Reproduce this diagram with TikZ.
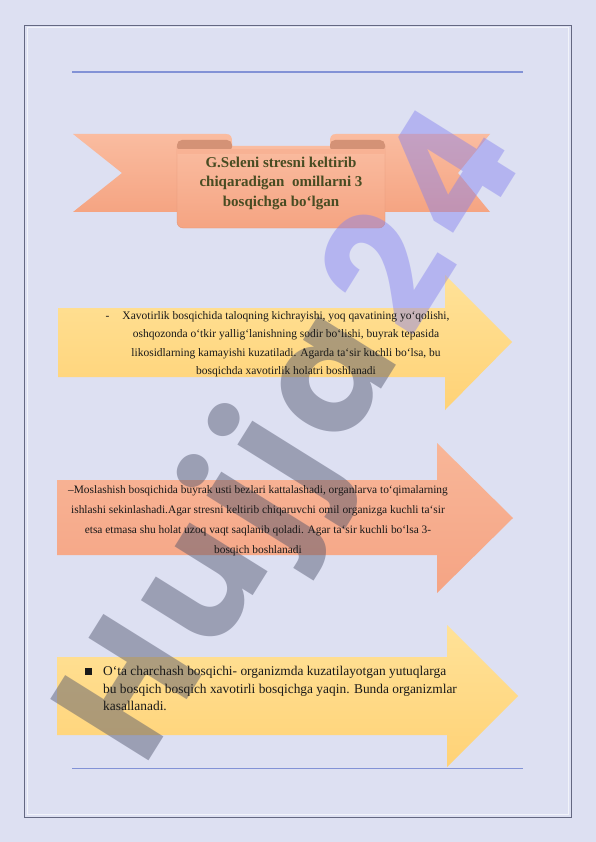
\documentclass[tikz,border=0pt]{standalone}
\usepackage{fontspec}
\setmainfont{Liberation Serif}
\newfontfamily\wmfont{Poppins}[LetterSpace=7]
\definecolor{pagebg}{RGB}{221,224,242}
\definecolor{framec}{RGB}{100,104,130}
\definecolor{rulec}{RGB}{130,146,214}
\definecolor{ribtop}{RGB}{250,188,160}
\definecolor{ribbot}{RGB}{245,164,130}
\definecolor{ribedge}{RGB}{228,150,120}
\definecolor{ribfold}{RGB}{212,146,118}
\definecolor{titlec}{RGB}{72,76,34}
\definecolor{yeltop}{RGB}{255,226,152}
\definecolor{yelbot}{RGB}{255,210,118}
\definecolor{saltop}{RGB}{248,182,152}
\definecolor{salbot}{RGB}{245,164,132}
\definecolor{wmgray}{RGB}{75,80,106}
\definecolor{wmblue}{RGB}{131,128,238}
\begin{document}
\begin{tikzpicture}[x=1pt,y=-1pt,
	ribbon/.style={top color=ribtop,bottom color=ribbot},
	yelarrow/.style={top color=yeltop,bottom color=yelbot},
	salarrow/.style={top color=saltop,bottom color=salbot},
	stagetext/.style={align=center,text=black!90,inner sep=0pt}]
	\useasboundingbox (0,0) rectangle (596,842);
	\fill[pagebg] (0,0) rectangle (596,842);

	% FRAME
	\draw[white!60!pagebg,line width=1pt] (27,28) rectangle (568,814);
	\draw[framec,line width=0.9pt] (24,25) rectangle (571,817);
	\draw[rulec,line width=1.6pt] (72,72) -- (523,72);
	\draw[rulec,line width=0.9pt] (72,768) -- (523,768);

	% BANNER
	\path[ribbon] (73,134) -- (226,134) .. controls (231,134) and (232,137) .. (232,142)
		-- (232,212) -- (73,212) -- (122,173) -- cycle;
	\path[ribbon] (490,134) -- (336,134) .. controls (331,134) and (330,137) .. (330,142)
		-- (330,212) -- (490,212) -- (458,173) -- cycle;
	\draw[ribbon,draw=ribedge,rounded corners=6pt] (177,146) -- (177,228) -- (385,228) -- (385,146);
	\fill[ribfold,rounded corners=5pt] (177,140) rectangle (232,152);
	\fill[ribfold,rounded corners=5pt] (330,140) rectangle (385,152);
	\fill[ribtop!60!ribbot] (177,149) rectangle (385,154);

	% ARROWS
	\path[yelarrow] (58,308) -- (445,308) -- (445,275) -- (512,342) -- (445,410) -- (445,377) -- (58,377) -- cycle;
	\path[salarrow] (57,480) -- (437,480) -- (437,443) -- (513,518) -- (437,593) -- (437,555) -- (57,555) -- cycle;
	\path[yelarrow] (57,657) -- (447,657) -- (447,625) -- (518,696) -- (447,767) -- (447,735) -- (57,735) -- cycle;

	% WATERMARK
	\node[rotate=58,text opacity=0.45,font=\wmfont\bfseries\fontsize{165}{165}\selectfont] (wm) at (298,440)
		{\color{wmgray}Hujja\hspace{18pt}\color{wmblue}24};

	% TEXTS
	\node[align=center,text=titlec,font=\bfseries\fontsize{15}{19.5}\selectfont] (ttl) at (281,183)
		{G.Seleni stresni keltirib\\chiqaradigan\ \ omillarni 3\\bosqichga bo`lgan};
	\node[stagetext,font=\fontsize{11.5}{18.5}\selectfont] (stage1) at (286,344)
		{\llap{-\hspace{13pt}}Xavotirlik bosqichida taloqning kichrayishi, yoq qavatining yo`qolishi,\\
		oshqozonda o`tkir yallig`lanishning sodir bo`lishi, buyrak tepasida\\
		likosidlarning kamayishi kuzatiladi. Agarda ta`sir kuchli bo`lsa, bu\\
		bosqichda xavotirlik holatri boshlanadi};
	\node[stagetext,font=\fontsize{11.4}{20}\selectfont] (stage2) at (258,521)
		{--Moslashish bosqichida buyrak usti bezlari kattalashadi, organlarva to`qimalarning\\
		ishlashi sekinlashadi.Agar stresni keltirib chiqaruvchi omil organizga kuchli ta`sir\\
		etsa etmasa shu holat uzoq vaqt saqlanib qoladi. Agar ta`sir kuchli bo`lsa 3-\\
		bosqich boshlanadi};
	\node[stagetext,align=left,anchor=north west,font=\fontsize{13.4}{17.5}\selectfont] (stage3) at (103,666)
		{\llap{\rule[0.5pt]{7pt}{7pt}\hspace{11pt}}O`ta charchash bosqichi- organizmda kuzatilayotgan yutuqlarga\\
		bu bosqich bosqich xavotirli bosqichga yaqin. Bunda organizmlar\\
		kasallanadi.};
\end{tikzpicture}
\end{document}
